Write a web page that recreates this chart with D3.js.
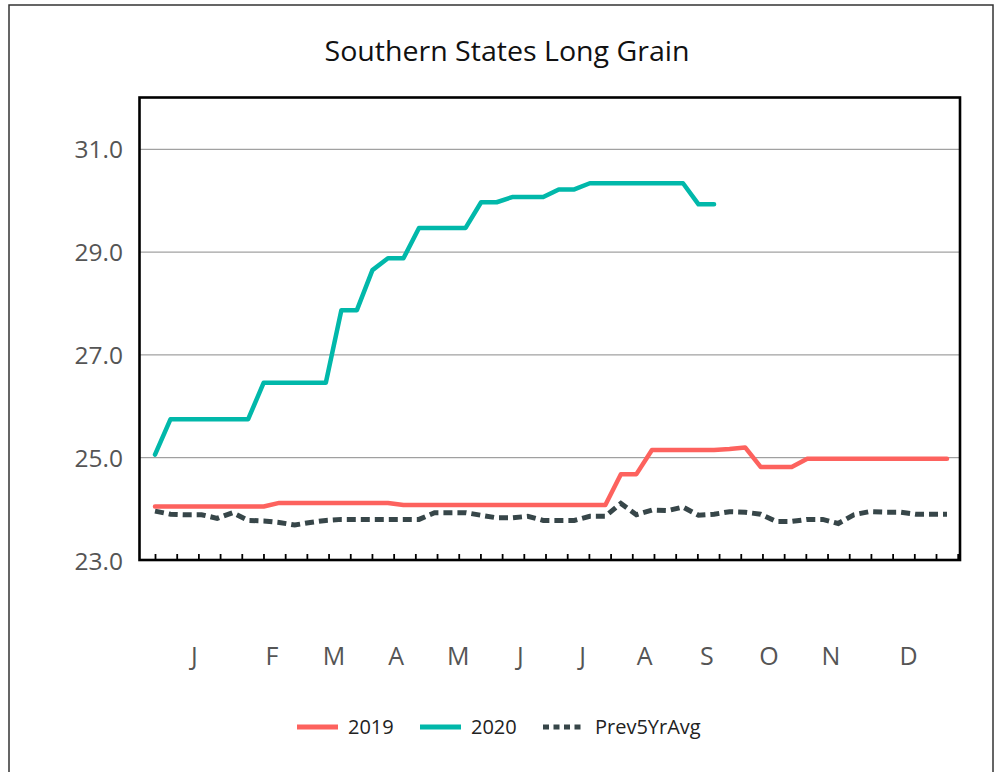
<!DOCTYPE html>
<html><head><meta charset="utf-8">
<script src="https://cdn.jsdelivr.net/npm/d3@7"></script>
<style>html,body{margin:0;padding:0;background:#fff;}svg{display:block;}</style>
</head><body>
<svg id="chart" width="997" height="772"></svg>
<script>
const title = "Southern States Long Grain";
const seriesNames = ["2019", "2020", "Prev5YrAvg"];
const seriesColors = ["#FD625E", "#01B8AA", "#374649"];
const y2019 = [24.05,24.05,24.05,24.05,24.05,24.05,24.05,24.05,24.12,24.12,24.12,24.12,24.12,24.12,24.12,24.12,
  24.08,24.08,24.08,24.08,24.08,24.08,24.08,24.08,24.08,24.08,24.08,24.08,24.08,24.08,24.68,24.68,
  25.15,25.15,25.15,25.15,25.15,25.17,25.20,24.82,24.82,24.82,24.98,24.98,24.98,24.98,24.98,24.98,24.98,24.98,24.98,24.98];
const y2020 = [25.06,25.75,25.75,25.75,25.75,25.75,25.75,26.46,26.46,26.46,26.46,26.46,27.87,27.87,28.65,28.88,28.88,
  29.47,29.47,29.47,29.47,29.97,29.97,30.07,30.07,30.07,30.22,30.22,30.34,30.34,30.34,30.34,30.34,30.34,30.34,29.93,29.93];
const yPrev = [23.96,23.90,23.89,23.89,23.82,23.93,23.78,23.77,23.74,23.69,23.74,23.78,23.80,23.80,23.80,23.80,23.80,23.80,
  23.93,23.93,23.93,23.88,23.83,23.83,23.86,23.78,23.78,23.78,23.86,23.86,24.11,23.89,23.98,23.97,24.04,23.88,23.90,
  23.95,23.94,23.90,23.76,23.76,23.80,23.80,23.72,23.89,23.95,23.94,23.94,23.90,23.90,23.90];
const yTicks = [23, 25, 27, 29, 31];
const monthLabels = ["J","F","M","A","M","J","J","A","S","O","N","D"];
const monthWeekPos = [2.5,7.5,11.5,15.5,19.5,23.5,27.5,31.5,35.5,39.5,43.5,48.5];
const minorTickCount = 38;
const minorTickStep = 1.397; // in weeks

const svg = d3.select("#chart");
const plot = {left: 139.5, top: 97.5, right: 960, bottom: 560};

// outer border
svg.append("rect").attr("x", 9).attr("y", 5).attr("width", 984).attr("height", 800)
  .attr("fill", "#fff").attr("stroke", "#333").attr("stroke-width", 1.5);

// title
svg.append("text").attr("x", 507).attr("y", 61).attr("text-anchor", "middle")
  .attr("font-family", "'Open Sans', sans-serif").attr("font-size", 28).attr("fill", "#111")
  .attr("textLength", 365).attr("lengthAdjust", "spacingAndGlyphs").text(title);

const x = d3.scaleLinear().domain([0, 51]).range([155, 947]);
const y = d3.scaleLinear().domain([23, 32]).range([560.5, 97.9]);

// gridlines
svg.append("g").selectAll("line").data(yTicks.filter(d => d > 23)).join("line")
  .attr("x1", plot.left).attr("x2", plot.right)
  .attr("y1", d => y(d)).attr("y2", d => y(d))
  .attr("stroke", "#8a8a8a").attr("stroke-width", 1);

// y axis labels
const yAxis = d3.axisLeft(y).tickValues(yTicks).tickFormat(d3.format(".1f")).tickSize(0).tickPadding(0);
const gy = svg.append("g").attr("transform", `translate(123,0)`).call(yAxis);
gy.select(".domain").remove();
gy.selectAll("text").attr("font-family", "'Open Sans', sans-serif").attr("font-size", 24.5)
  .attr("fill", "#555").attr("dy", "0.35em");

// minor ticks at bottom
const tickVals = d3.range(minorTickCount).map(k => k * minorTickStep);
const xAxis = d3.axisTop(x).tickValues(tickVals).tickSize(6).tickFormat("");
const gx = svg.append("g").attr("transform", `translate(0,${plot.bottom})`).call(xAxis);
gx.select(".domain").remove();
gx.selectAll("line").attr("stroke", "#000").attr("stroke-width", 1.8);

// month labels
const mAxis = d3.axisBottom(x).tickValues(monthWeekPos).tickSize(0).tickFormat((d, i) => monthLabels[i]);
const gm = svg.append("g").attr("transform", `translate(0,639)`).call(mAxis);
gm.select(".domain").remove();
gm.selectAll("text").attr("font-family", "'Open Sans', sans-serif").attr("font-size", 25)
  .attr("font-weight", 400).attr("fill", "#555").attr("dy", "0.9em");

// lines
const line = d3.line().x((d, i) => x(i)).y(d => y(d));
svg.append("path").datum(yPrev).attr("d", line).attr("fill", "none")
  .attr("stroke", seriesColors[2]).attr("stroke-width", 5).attr("stroke-dasharray", "9,5");
svg.append("path").datum(y2019).attr("d", line).attr("fill", "none")
  .attr("stroke", seriesColors[0]).attr("stroke-width", 4.5).attr("stroke-linejoin", "round").attr("stroke-linecap", "round");
svg.append("path").datum(y2020).attr("d", line).attr("fill", "none")
  .attr("stroke", seriesColors[1]).attr("stroke-width", 4.5).attr("stroke-linejoin", "round").attr("stroke-linecap", "round");

// frame
svg.append("rect").attr("x", plot.left).attr("y", plot.top)
  .attr("width", plot.right - plot.left).attr("height", plot.bottom - plot.top)
  .attr("fill", "none").attr("stroke", "#000").attr("stroke-width", 2.6);

// legend
const legendItems = [
  {name: seriesNames[0], color: seriesColors[0], x: 297, dash: null},
  {name: seriesNames[1], color: seriesColors[1], x: 420, dash: null},
  {name: seriesNames[2], color: seriesColors[2], x: 543, dash: "6,4.5"}
];
const lg = svg.append("g");
legendItems.forEach(it => {
  lg.append("line").attr("x1", it.x).attr("x2", it.x + 41).attr("y1", 727).attr("y2", 727)
    .attr("stroke", it.color).attr("stroke-width", 5).attr("stroke-dasharray", it.dash);
  lg.append("text").attr("x", it.x + (it.dash ? 52 : 51)).attr("y", 734)
    .attr("font-family", "'Open Sans', sans-serif").attr("font-size", 20).attr("fill", "#222").text(it.name);
});
</script>
</body></html>
